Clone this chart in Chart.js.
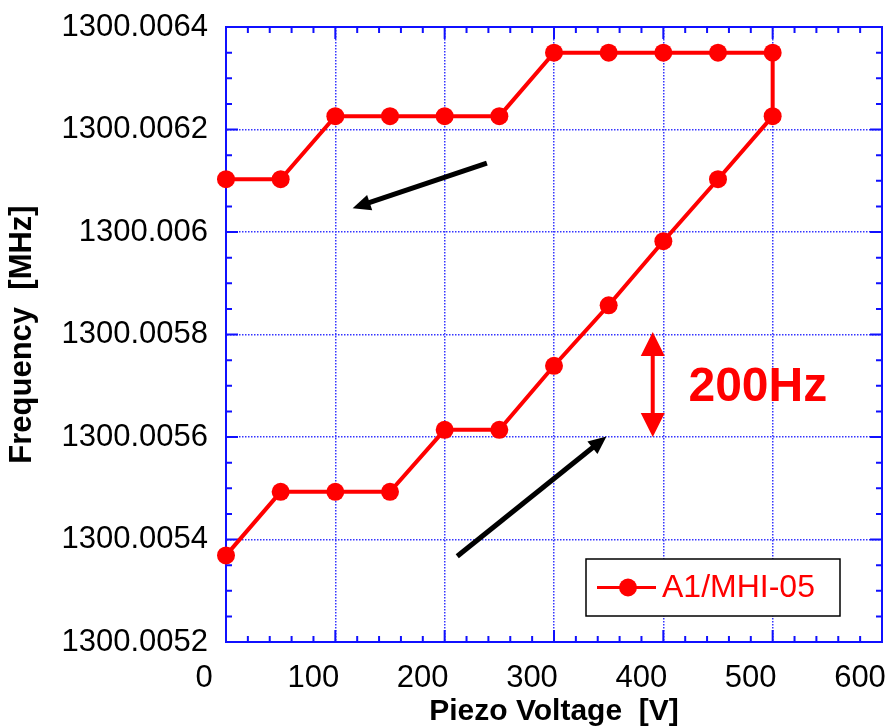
<!DOCTYPE html>
<html>
<head>
<meta charset="utf-8">
<script src="https://cdn.jsdelivr.net/npm/chart.js@4"></script>
<style>
  html, body { margin: 0; padding: 0; background: #fff; }
  #wrap { width: 891px; height: 727px; }
</style>
</head>
<body>
<div id="wrap"><canvas id="piezo-chart" width="891" height="727"></canvas></div>
<script>
// piezo sweep up then back down
const voltage = [0, 50, 100, 150, 200, 250, 300, 350, 400, 450, 500,
                 500, 450, 400, 350, 300, 250, 200, 150, 100, 50, 0];
const frequency = [1300.005369, 1300.005493, 1300.005493, 1300.005493, 1300.005614, 1300.005614,
                   1300.005739, 1300.005857, 1300.005982, 1300.006103, 1300.006226,
                   1300.00635, 1300.00635, 1300.00635, 1300.00635, 1300.00635,
                   1300.006226, 1300.006226, 1300.006226, 1300.006226,
                   1300.006103, 1300.006103];
const seriesName = 'A1/MHI-05';

// annotation arrows in data coords [x0, y0, x1, y1]
const arrowDown = [238.6, 1300.0061346, 115.8, 1300.0060462];
const arrowUp = [211.5, 1300.0053673, 348, 1300.005601];
const spanArrow = [390.3, 1300.005805, 390.3, 1300.0056];
const spanLabel = { x: 423, y: 1300.00567, text: '200Hz' };

const RED = '#ff0000';
const BLUE = '#1010ff';
const GRID = '#3434ff';
const FONT = '"Liberation Sans", Arial, sans-serif';

function arrowHead(ctx, x0, y0, x1, y1, len, half) {
  const a = Math.atan2(y1 - y0, x1 - x0);
  ctx.beginPath();
  ctx.moveTo(x1, y1);
  ctx.lineTo(x1 - len * Math.cos(a) + half * Math.sin(a), y1 - len * Math.sin(a) - half * Math.cos(a));
  ctx.lineTo(x1 - len * Math.cos(a) - half * Math.sin(a), y1 - len * Math.sin(a) + half * Math.cos(a));
  ctx.closePath();
  ctx.fill();
}

const frameTicks = {
  id: 'frameTicks',
  beforeDatasetsDraw(chart) {
    const { ctx, chartArea: ca, scales: { x, y } } = chart;
    ctx.save();
    ctx.strokeStyle = BLUE;
    ctx.lineWidth = 2;
    ctx.strokeRect(ca.left, ca.top, ca.right - ca.left, ca.bottom - ca.top);
    ctx.beginPath();
    for (let i = 0; i <= 30; i++) {
      const px = x.getPixelForValue(i * 20);
      const len = i % 5 === 0 ? 12 : 6;
      ctx.moveTo(px, ca.bottom); ctx.lineTo(px, ca.bottom - len);
      ctx.moveTo(px, ca.top); ctx.lineTo(px, ca.top + len);
    }
    for (let i = 0; i <= 24; i++) {
      const py = y.getPixelForValue(1300.0052 + i * 0.00005);
      const len = i % 4 === 0 ? 12 : 6;
      ctx.moveTo(ca.left, py); ctx.lineTo(ca.left + len, py);
      ctx.moveTo(ca.right, py); ctx.lineTo(ca.right - len, py);
    }
    ctx.stroke();
    ctx.restore();
  }
};

const notes = {
  id: 'notes',
  afterDatasetsDraw(chart) {
    const { ctx, chartArea: ca, scales: { x, y } } = chart;
    ctx.save();
    // black direction arrows
    [arrowDown, arrowUp].forEach(a => {
      const x0 = x.getPixelForValue(a[0]), y0 = y.getPixelForValue(a[1]);
      const x1 = x.getPixelForValue(a[2]), y1 = y.getPixelForValue(a[3]);
      const ang = Math.atan2(y1 - y0, x1 - x0);
      ctx.strokeStyle = '#000'; ctx.fillStyle = '#000'; ctx.lineWidth = 5;
      ctx.beginPath();
      ctx.moveTo(x0, y0);
      ctx.lineTo(x1 - 12 * Math.cos(ang), y1 - 12 * Math.sin(ang));
      ctx.stroke();
      arrowHead(ctx, x0, y0, x1, y1, 18, 8);
    });
    // red 200 Hz span
    const sx = x.getPixelForValue(spanArrow[0]);
    const sy0 = y.getPixelForValue(spanArrow[1]);
    const sy1 = y.getPixelForValue(spanArrow[3]);
    ctx.strokeStyle = RED; ctx.fillStyle = RED; ctx.lineWidth = 4;
    ctx.beginPath();
    ctx.moveTo(sx, sy0 + 15); ctx.lineTo(sx, sy1 - 15);
    ctx.stroke();
    arrowHead(ctx, sx, sy1, sx, sy0, 24, 12);
    arrowHead(ctx, sx, sy0, sx, sy1, 24, 12);
    ctx.font = 'bold 48px ' + FONT;
    ctx.textAlign = 'left';
    ctx.textBaseline = 'alphabetic';
    ctx.fillText(spanLabel.text, x.getPixelForValue(spanLabel.x), y.getPixelForValue(spanLabel.y));

    // legend box
    const bx = ca.right - 296, by = ca.bottom - 83, bw = 254, bh = 57;
    ctx.fillStyle = '#fff';
    ctx.fillRect(bx, by, bw, bh);
    ctx.strokeStyle = '#000'; ctx.lineWidth = 1.5;
    ctx.strokeRect(bx, by, bw, bh);
    const ly = by + bh / 2;
    ctx.strokeStyle = RED; ctx.lineWidth = 3;
    ctx.beginPath(); ctx.moveTo(bx + 11, ly); ctx.lineTo(bx + 70, ly); ctx.stroke();
    ctx.fillStyle = RED;
    ctx.beginPath(); ctx.arc(bx + 42, ly, 9, 0, Math.PI * 2); ctx.fill();
    ctx.font = '32px ' + FONT;
    ctx.textBaseline = 'middle';
    ctx.fillText(seriesName, bx + 76, ly + 1);
    ctx.restore();
  }
};

new Chart(document.getElementById('piezo-chart'), {
  type: 'scatter',
  data: {
    datasets: [{
      label: seriesName,
      data: voltage.map((v, i) => ({ x: v, y: frequency[i] })),
      showLine: true,
      borderColor: RED,
      backgroundColor: RED,
      borderWidth: 4,
      pointRadius: 9,
      pointBorderWidth: 0,
      pointHoverRadius: 9,
      clip: false,
    }]
  },
  options: {
    responsive: false,
    animation: false,
    devicePixelRatio: 1,
    layout: { padding: { left: 0, right: 7, top: 27, bottom: 0 } },
    plugins: { legend: { display: false }, tooltip: { enabled: false } },
    scales: {
      x: {
        type: 'linear', min: 0, max: 600,
        ticks: { stepSize: 100, color: '#000', padding: 18, labelOffset: -22,
                 font: { family: FONT, size: 31 } },
        grid: { color: GRID, lineWidth: 1.5, drawTicks: false },
        border: { display: true, color: BLUE, width: 2, dash: [1.5, 1.5] },
        title: { display: true, text: 'Piezo Voltage  [V]', color: '#000',
                 font: { family: FONT, size: 30, weight: 'bold', lineHeight: 1 }, padding: 0 },
        afterFit(scale) { scale.height = 85; scale.paddingLeft = 0; scale.paddingRight = 0; }
      },
      y: {
        type: 'linear', min: 1300.0052, max: 1300.0064,
        ticks: { stepSize: 0.0002, color: '#000', padding: 18,
                 font: { family: FONT, size: 31 },
                 callback: v => String(parseFloat(v.toFixed(4))) },
        grid: { color: GRID, lineWidth: 1.5, drawTicks: false },
        border: { display: true, color: BLUE, width: 2, dash: [1.5, 1.5] },
        title: { display: true, text: 'Frequency  [MHz]', color: '#000',
                 font: { family: FONT, size: 31, weight: 'bold', lineHeight: 1 }, padding: { top: 7, bottom: 0 } },
        afterFit(scale) { scale.width = 226; scale.paddingTop = 0; scale.paddingBottom = 0; }
      }
    }
  },
  plugins: [frameTicks, notes]
});
</script>
</body>
</html>
